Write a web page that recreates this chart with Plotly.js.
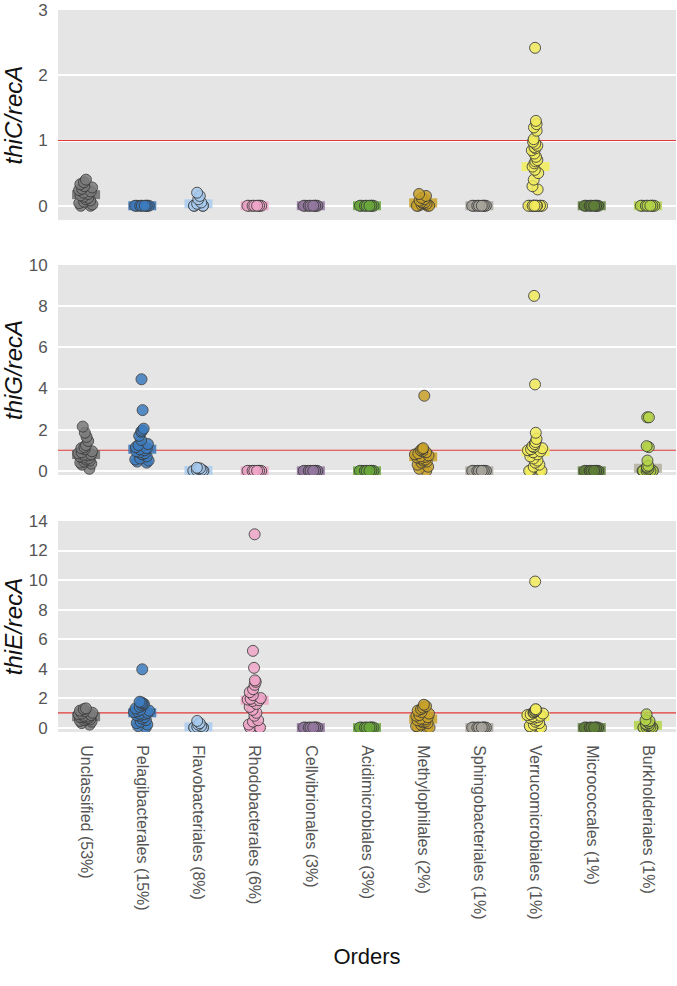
<!DOCTYPE html>
<html><head><meta charset="utf-8">
<script src="https://cdn.plot.ly/plotly-3.0.1.min.js"></script>
<style>html,body{margin:0;padding:0;background:#fff}</style>
</head><body><div id="chart" style="width:677px;height:986px"></div>
<script>
const categories = ["Unclassified (53%)", "Pelagibacterales (15%)", "Flavobacteriales (8%)", "Rhodobacterales (6%)",
  "Cellvibrionales (3%)", "Acidimicrobiales (3%)", "Methylophilales (2%)", "Sphingobacteriales (1%)",
  "Verrucomicrobiales (1%)", "Micrococcales (1%)", "Burkholderiales (1%)"];

const colors = ["#7b7b7b", "#3d7cbf", "#a7caee", "#efa6c8", "#94789f", "#6aa83c", "#c9a22a", "#a8a69c", "#f2ec5c", "#5f7f38", "#b4d448"];
const barColors = ["#6c6c6c", "#3a74b6", "#a9ccee", "#eea6c6", "#8e739c", "#6aa83c", "#c9a22a", "#a8a69c", "#f3ee58", "#5f7f38", "#b4d448"];

const zeros8 = [0, 0, 0, 0, 0, 0, 0, 0];

const thiC_recA = [
  [0.4, 0.36, 0.33, 0.3, 0.28, 0.26, 0.24, 0.22, 0.2, 0.18, 0.16, 0.14, 0.12, 0.1, 0.08, 0.06, 0.04, 0.02, 0, 0],
  zeros8,
  [0.2, 0.15, 0.1, 0.05, 0.03, 0, 0, 0, 0],
  zeros8,
  zeros8,
  zeros8,
  [0.18, 0.15, 0.12, 0.1, 0.08, 0.06, 0.05, 0.04, 0.03, 0.02, 0, 0, 0, 0],
  zeros8,
  [2.42, 1.3, 1.25, 1.2, 1.15, 1.02, 0.98, 0.95, 0.92, 0.9, 0.88, 0.85, 0.8, 0.75, 0.7, 0.68, 0.65, 0.6, 0.55, 0.5, 0.4, 0.3, 0.25, 0, 0, 0, 0, 0, 0, 0, 0, 0, 0, 0, 0],
  zeros8,
  zeros8
];

const thiG_recA = [
  [2.15, 1.85, 1.65, 1.45, 1.25, 1.15, 1.1, 1.05, 0.95, 0.9, 0.85, 0.8, 0.78, 0.75, 0.7, 0.65, 0.6, 0.55, 0.5, 0.45, 0.4, 0.35, 0.3, 0.1],
  [4.45, 2.95, 2.05, 1.95, 1.9, 1.7, 1.5, 1.3, 1.25, 1.15, 1.1, 1.05, 1.0, 0.95, 0.9, 0.85, 0.8, 0.7, 0.6, 0.55, 0.5, 0.45, 0.4],
  [0.15, 0.12, 0.1, 0.05, 0.02, 0, 0, 0, 0],
  zeros8,
  zeros8,
  zeros8,
  [3.65, 1.1, 1.05, 1.0, 0.95, 0.9, 0.85, 0.8, 0.75, 0.7, 0.68, 0.65, 0.6, 0.55, 0.5, 0.45, 0.4, 0.3, 0.2, 0.1, 0.0],
  zeros8,
  [8.5, 4.2, 1.85, 1.55, 1.4, 1.3, 1.2, 1.15, 1.1, 1.05, 1.0, 0.95, 0.9, 0.8, 0.7, 0.6, 0.5, 0.4, 0.3, 0.2, 0, 0, 0, 0],
  zeros8,
  [2.6, 2.6, 1.2, 1.15, 0.5, 0.25, 0.2, 0.15, 0.1, 0.05, 0, 0, 0, 0, 0, 0]
];

const thiE_recA = [
  [1.3, 1.25, 1.15, 1.1, 1.0, 0.95, 0.9, 0.85, 0.8, 0.75, 0.72, 0.7, 0.65, 0.6, 0.55, 0.5, 0.45, 0.4, 0.3, 0.2],
  [3.95, 1.75, 1.7, 1.65, 1.6, 1.5, 1.4, 1.3, 1.2, 1.15, 1.1, 1.05, 1.0, 0.95, 0.9, 0.85, 0.8, 0.7, 0.6, 0.5, 0.4, 0.3, 0.2, 0.1, 0],
  [0.45, 0.3, 0.2, 0.1, 0.05, 0, 0, 0, 0],
  [13.1, 5.2, 4.05, 3.2, 3.1, 2.9, 2.6, 2.4, 2.2, 2.0, 1.95, 1.9, 1.85, 1.8, 1.6, 1.4, 1.2, 1.0, 0.8, 0.5, 0.4, 0.2, 0, 0, 0],
  zeros8,
  zeros8,
  [1.55, 1.45, 1.35, 1.25, 1.15, 1.05, 0.95, 0.85, 0.8, 0.7, 0.6, 0.55, 0.5, 0.45, 0.4, 0.35, 0.3, 0.2, 0.1, 0, 0, 0],
  zeros8,
  [9.9, 1.25, 1.2, 1.15, 1.1, 1.05, 1.0, 0.95, 0.9, 0.85, 0.8, 0.75, 0.7, 0.65, 0.6, 0.5, 0.4, 0.3, 0.2, 0.1, 0, 0, 0],
  zeros8,
  [0.9, 0.5, 0.45, 0.4, 0.3, 0.25, 0.2, 0.15, 0.1, 0.05, 0, 0, 0, 0, 0]
];

const yTitles = ["thiC/recA", "thiG/recA", "thiE/recA"];
const referenceLevel = 1;

function median(arr) {
  const s = arr.slice().sort((a, b) => a - b);
  const n = s.length;
  return n % 2 ? s[(n - 1) / 2] : (s[n / 2 - 1] + s[n / 2]) / 2;
}

const panels = [
  {vals: thiC_recA, range: [-0.22, 3], dtick: 1, domain: [0.709, 1], barOverride: {}},
  {vals: thiG_recA, range: [-0.2, 10], dtick: 2, domain: [0.356, 0.6468], barOverride: {10: "#b3b09c"}},
  {vals: thiE_recA, range: [-0.3, 14], dtick: 2, domain: [0, 0.2922], barOverride: {}}
];

const traces = [];
const shapes = [];
const layout = {
  width: 677, height: 986,
  margin: {l: 58, r: 1, t: 10, b: 254},
  paper_bgcolor: "#ffffff",
  plot_bgcolor: "#e5e5e5",
  showlegend: false,
  boxmode: "overlay",
  font: {family: "Liberation Sans, Arial, sans-serif", color: "#555"},
  xaxis: {
    type: "category", categoryorder: "array", categoryarray: categories,
    range: [-0.5, 10.5], anchor: "y3",
    showgrid: false, zeroline: false, showline: false,
    ticks: "outside", ticklen: 9, tickcolor: "rgba(0,0,0,0)",
    tickangle: 90, tickfont: {size: 16, color: "#555"},
    title: {text: "Orders", font: {size: 22, color: "#111"}, standoff: 30}
  }
};

panels.forEach((p, k) => {
  const yname = k === 0 ? "y" : "y" + (k + 1);
  const yaxKey = k === 0 ? "yaxis" : "yaxis" + (k + 1);
  layout[yaxKey] = {
    domain: p.domain, range: p.range, dtick: p.dtick, anchor: "x",
    showgrid: true, gridcolor: "#ffffff", gridwidth: 2,
    zeroline: false, showline: false,
    ticks: "outside", ticklen: 6, tickcolor: "rgba(0,0,0,0)",
    tickfont: {size: 17, color: "#555"},
    title: {text: "<i>" + yTitles[k] + "</i>", font: {size: 24, color: "#111"}, standoff: 8}
  };
  shapes.push({
    type: "line", layer: "between", xref: "x", yref: yname,
    x0: -0.5, x1: categories.length - 0.5, y0: referenceLevel, y1: referenceLevel,
    line: {color: "#e0383a", width: 1.2}
  });
  p.vals.forEach((v, i) => {
    shapes.push({
      type: "rect", layer: "between", xref: "x", yref: yname,
      xsizemode: "pixel", ysizemode: "pixel",
      xanchor: i, yanchor: median(v),
      x0: -14, x1: 14, y0: -4.5, y1: 4.5,
      fillcolor: p.barOverride[i] || barColors[i], opacity: 0.85, line: {width: 0}
    });
    traces.push({
      type: "box", x: v.map(() => categories[i]), y: v,
      xaxis: "x", yaxis: yname,
      boxpoints: "all", jitter: 0.6, pointpos: 0, width: 0.5,
      fillcolor: "rgba(0,0,0,0)", line: {width: 0, color: "rgba(0,0,0,0)"},
      marker: {color: colors[i], size: 11, opacity: 0.85, line: {color: "#3a3a3a", width: 1}},
      showlegend: false, hoverinfo: "y"
    });
  });
});
layout.shapes = shapes;

Plotly.newPlot("chart", traces, layout, {displayModeBar: false, staticPlot: true});
</script>
</body></html>
